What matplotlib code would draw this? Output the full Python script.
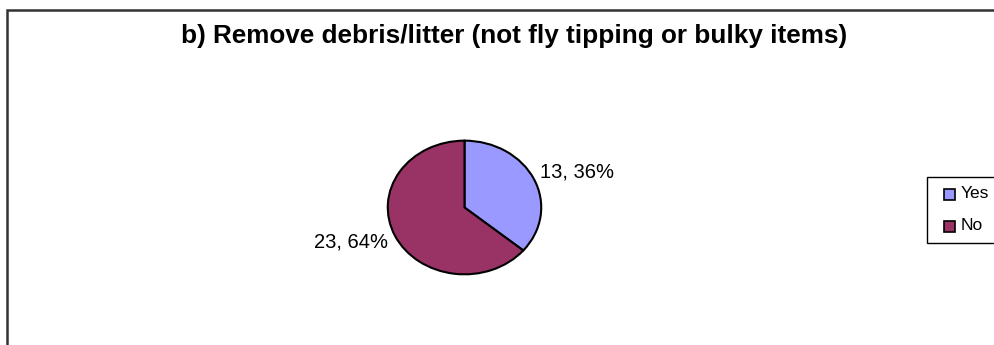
import matplotlib
matplotlib.use("Agg")
import matplotlib.pyplot as plt
from matplotlib.patches import Rectangle

plt.rcParams['font.family'] = ['Liberation Sans', 'DejaVu Sans']

title = "b) Remove debris/litter (not fly tipping or bulky items)"
categories = ["Yes", "No"]
values = [13, 23]
percents = ["36%", "64%"]
colors = ["#9999FF", "#993366"]

W, H = 994, 345
fig = plt.figure(figsize=(W / 100, H / 100), dpi=100)

# outer frame (cut at right/bottom)
fig.patches.append(Rectangle((6.5 / W, -0.05), 1.1, (H - 10) / H + 0.05,
                             transform=fig.transFigure, fill=False,
                             edgecolor="#333333", linewidth=1.8))

fig.text(514 / W, 1 - 36 / H, title, ha="center", va="center",
         fontsize=18.8, fontweight="bold")

# pie axes: elliptical
cx, cy, rx, ry = 464.5, 207.5, 77.5, 67.5
ax = fig.add_axes([(cx - rx) / W, 1 - (cy + ry) / H, 2 * rx / W, 2 * ry / H])
wedges, _ = ax.pie(values, colors=colors, startangle=90, counterclock=False,
                   wedgeprops=dict(edgecolor="black", linewidth=1.5))
ax.set_aspect('auto')
ax.set_xlim(-1.01, 1.01)
ax.set_ylim(-1.01, 1.01)
ax.axis('off')

labels = [f"{v}, {p}" for v, p in zip(values, percents)]
fig.text(540 / W, 1 - 172 / H, labels[0], ha="left", va="center", fontsize=14.5)
fig.text(388 / W, 1 - 242 / H, labels[1], ha="right", va="center", fontsize=14.5)

# legend
fig.patches.append(Rectangle((927 / W, 1 - 243 / H), 0.2, 66 / H,
                             transform=fig.transFigure, fill=True,
                             facecolor="white", edgecolor="black", linewidth=1))
for i, (c, lab) in enumerate(zip(colors, categories)):
    y = 194 + i * 32
    fig.patches.append(Rectangle((944 / W, 1 - (y + 5.5) / H), 11 / W, 11 / H,
                                 transform=fig.transFigure, facecolor=c,
                                 edgecolor="black", linewidth=1.2))
    fig.text(961 / W, 1 - y / H, lab, ha="left", va="center", fontsize=12.5)

fig.savefig("out.png", dpi=100)
